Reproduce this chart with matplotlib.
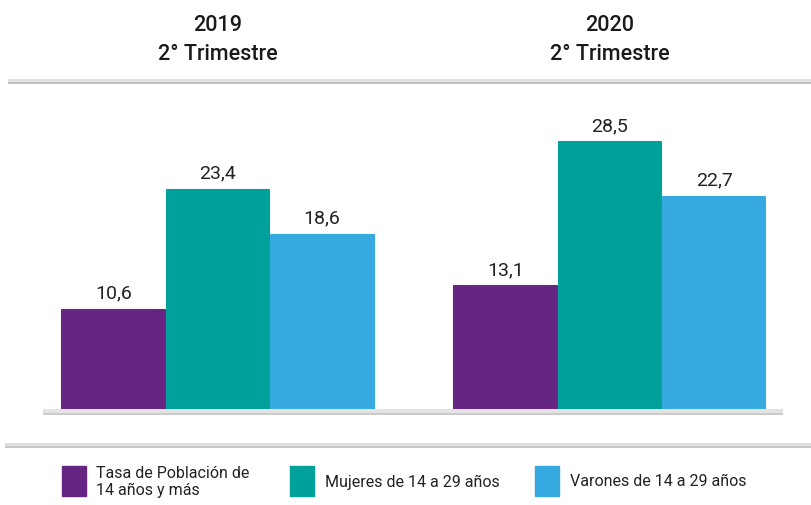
import matplotlib
matplotlib.use("Agg")
import matplotlib.pyplot as plt
from matplotlib.patches import Rectangle
import numpy as np

plt.rcParams['font.family'] = ['Roboto', 'DejaVu Sans']

groups = ["2019\n2° Trimestre", "2020\n2° Trimestre"]
series = ["Tasa de Población de\n14 años y más", "Mujeres de 14 a 29 años", "Varones de 14 a 29 años"]
values = [
    [10.6, 13.1],
    [23.4, 28.5],
    [18.6, 22.7],
]
colors = ["#662483", "#00a19a", "#36a9e1"]

W, H = 811, 506
fig = plt.figure(figsize=(W / 100, H / 100), dpi=100)

def fx(px):
    return px / W

def fy(py):
    return 1 - py / H

ax_left, ax_right, ax_top, ax_bottom = 42, 787, 90, 410
ax = fig.add_axes([fx(ax_left), fy(ax_bottom), fx(ax_right - ax_left), fy(ax_top) - fy(ax_bottom)])
ax.set_xlim(-0.449, 1.452)
ymax = (ax_bottom - ax_top) / 9.36
ax.set_ylim(0, ymax)
ax.axis("off")

x = np.arange(len(groups))
bw = 0.262
gap = 0.004
for i, (vals, c) in enumerate(zip(values, colors)):
    pos = x + (i - 1) * (bw + gap)
    bars = ax.bar(pos, vals, width=bw, color=c, edgecolor=c, linewidth=1.5,
                  joinstyle="round", zorder=2)
    for b, v in zip(bars, vals):
        ax.annotate(f"{v:.1f}".replace(".", ","), (b.get_x() + b.get_width() / 2, v),
                    xytext=(0, 6), textcoords="offset points", ha="center", va="bottom",
                    fontsize=14, color="#222222")

def band(x0, x1, y0, y1, fill, edge):
    fig.add_artist(Rectangle((fx(x0), fy(y1)), fx(x1 - x0), fy(y0) - fy(y1),
                             facecolor=fill, edgecolor="none", zorder=5))
    fig.add_artist(Rectangle((fx(x0), fy(y1)), fx(x1 - x0), fy(y1 - 2) - fy(y1),
                             facecolor=edge, edgecolor="none", zorder=5))

# baseline band (below bars)
band(43, 783, 410, 416, "#e3e3e3", "#cbcbcb")
# separators
band(8, 811, 80, 85, "#e1e1e1", "#c2c2c2")
band(5, 811, 444, 449, "#e1e1e1", "#c8c8c8")

# group titles (positioned over the group centers)
for gi, g in enumerate(groups):
    cx = ax.transData.transform((x[gi], 0))[0] / fig.dpi / fig.get_figwidth()
    fig.text(cx, fy(40), g, ha="center", va="center", fontsize=15.5, color="#1a1a1a",
             fontweight="medium", linespacing=1.45)

# legend
sq_x = [62, 290, 535]
txt_x = [96, 325, 570]
for s, c, sx, tx in zip(series, colors, sq_x, txt_x):
    fig.add_artist(Rectangle((fx(sx), fy(497)), fx(24), fy(467) - fy(497), color=c))
    fig.text(fx(tx), fy(482), s, ha="left", va="center", fontsize=11.5, color="#222222",
             linespacing=1.15)

fig.savefig("out.png", dpi=100)
